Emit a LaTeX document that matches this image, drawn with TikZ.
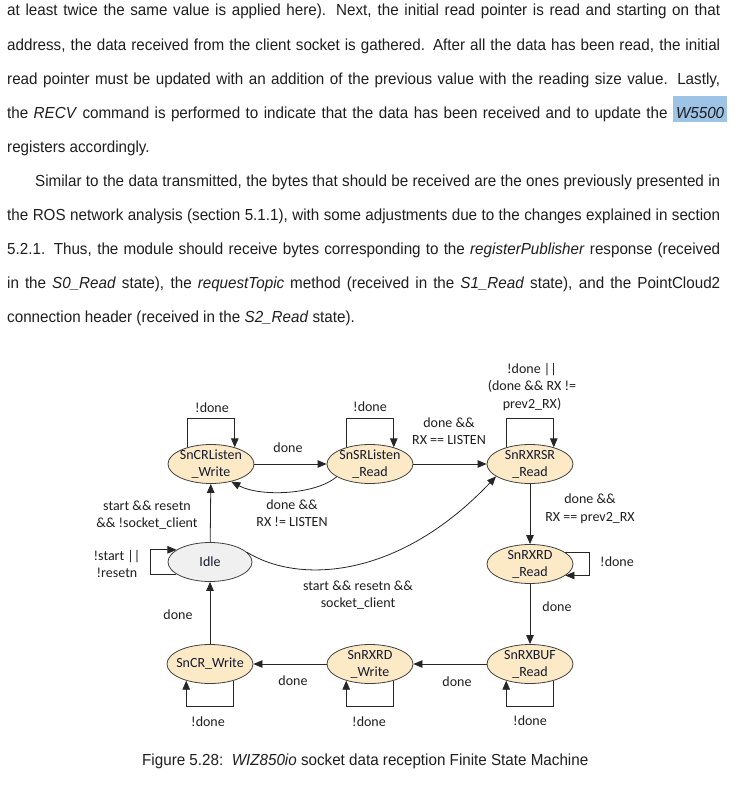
\documentclass[tikz,border=0pt]{standalone}
\usepackage{fontspec}
\setmainfont[FakeStretch=0.95]{Liberation Sans}
\newfontfamily\diag{Carlito}
\usetikzlibrary{arrows.meta,shapes.geometric}
\definecolor{peach}{RGB}{252,234,198}
\definecolor{idlegray}{RGB}{240,240,240}
\definecolor{hlblue}{RGB}{157,195,230}
\definecolor{txt}{RGB}{30,30,30}
\definecolor{ntxt}{RGB}{22,26,48}
\begin{document}
\begin{tikzpicture}[x=1pt,y=-1pt,
  line/.style={anchor=base west, inner sep=0pt, font=\fontsize{16}{19}\selectfont, text=txt},
  state/.style={ellipse, draw=black!75, line width=0.8pt, fill=peach, minimum width=86pt, minimum height=39pt, inner sep=0pt},
  st/.style={font=\diag\fontsize{14}{17}\selectfont, align=center, inner sep=0pt, text=ntxt},
  lab/.style={font=\diag\fontsize{14}{17.5}\selectfont, align=center, inner sep=0pt, text=txt},
  arr/.style={draw=black!85, line width=0.8pt, -{Triangle[length=9pt,width=7.5pt]}},
]
\useasboundingbox (0,0) rectangle (754,787);

% ---------- body text ----------
\node[line] (t1) at (7,16) {\makebox[713pt][s]{at least twice the same value is applied here).  Next, the initial read pointer is read and starting on that}};
\node[line] (t2) at (7,50) {\makebox[713pt][s]{address, the data received from the client socket is gathered. After all the data has been read, the initial}};
\node[line] (t3) at (7,84) {\makebox[713pt][s]{read pointer must be updated with an addition of the previous value with the reading size value.  Lastly,}};
\node[line] (t4) at (7,118) {\makebox[720pt][s]{the \textit{RECV} command is performed to indicate that the data has been received and to update the {\setlength{\fboxsep}{3pt}\colorbox{hlblue}{\rule[-1pt]{0pt}{20pt}\textit{W5500}}}}};
\node[line] (t5) at (7,152) {registers accordingly.};
\node[line] (t6) at (35,186) {\makebox[685pt][s]{Similar to the data transmitted, the bytes that should be received are the ones previously presented in}};
\node[line] (t7) at (7,220) {\makebox[713pt][s]{the ROS network analysis (section 5.1.1), with some adjustments due to the changes explained in section}};
\node[line] (t8) at (7,254) {\makebox[713pt][s]{5.2.1. Thus, the module should receive bytes corresponding to the \textit{registerPublisher} response (received}};
\node[line] (t9) at (7,288) {\makebox[713pt][s]{in the \textit{S0\_Read} state), the \textit{requestTopic} method (received in the \textit{S1\_Read} state), and the PointCloud2}};
\node[line] (t10) at (7,322) {connection header (received in the \textit{S2\_Read} state).};

% ---------- states ----------
\node[state, label={[st]center:{SnCRListen\\\_Write}}] (A) at (211,464) {};
\node[state, label={[st]center:{SnSRListen\\\_Read}}] (B) at (370,464) {};
\node[state, label={[st]center:{SnRXRSR\\\_Read}}] (C) at (530,464) {};
\node[state, fill=idlegray, minimum width=84pt, label={[st]center:Idle}] (I) at (210,562) {};
\node[state, label={[st]center:{SnRXRD\\\_Read}}] (D) at (530,564) {};
\node[state, label={[st]center:{SnRXBUF\\\_Read}}] (E) at (530,664) {};
\node[state, label={[st]center:{SnRXRD\\\_Write}}] (F) at (370,664) {};
\node[state, label={[st]center:SnCR\_Write}] (G) at (210,664) {};

% ---------- transitions ----------
\draw[arr] (A) -- (B);
\draw[arr] (B) -- (C);
\draw[arr] (I) -- (A);
\draw[arr] (C) -- (D);
\draw[arr] (D) -- (E);
\draw[arr] (E) -- (F);
\draw[arr] (F) -- (G);
\draw[arr] (G) -- (I);
\draw[arr] (B.201) .. controls (315,495) and (260,497) .. (A.319);
\draw[arr] (I.15) .. controls (300,585) and (400,578) .. (C.200);

% self loops
\draw[arr] (A.145) -- ++(0,-29) -| (A.35);
\draw[arr] (B.145) -- ++(0,-29) -| (B.35);
\draw[arr] (C.145) -- ++(0,-29) -| (C.35);
\draw[arr] (D.18) -- ++(24,0) |- (D.342);
\draw[arr] (E.325) -- ++(0,26) -| (E.215);
\draw[arr] (F.325) -- ++(0,26) -| (F.215);
\draw[arr] (G.325) -- ++(0,26) -| (G.215);
\draw[arr] (I.200) -- ++(-26,0) |- (I.160);

% ---------- labels ----------
\node[lab] (lA) at (212,408) {!done};
\node[lab] (lB) at (370,407) {!done};
\node[lab] (lC) at (532,387) {!done ||\\(done \&\& RX !=\\prev2\_RX)};
\node[lab] (lAB) at (288,448) {done};
\node[lab] (lBA) at (292,513) {done \&\&\\RX != LISTEN};
\node[lab] (lBC) at (449,431) {done \&\&\\RX == LISTEN};
\node[lab] (lCD) at (590,509) {done \&\&\\RX == prev2\_RX};
\node[lab] (lIA) at (147,515) {start \&\& resetn\\\&\& !socket\_client};
\node[lab] (lI) at (117,564) {!start ||\\!resetn};
\node[lab] (lD) at (617,562) {!done};
\node[lab] (lIC) at (358,595) {start \&\& resetn \&\&\\socket\_client};
\node[lab] (lGI) at (178,615) {done};
\node[lab] (lDE) at (557,607) {done};
\node[lab] (lFG) at (293,681) {done};
\node[lab] (lEF) at (457,682) {done};
\node[lab] (lG) at (208,722) {!done};
\node[lab] (lF) at (369,722) {!done};
\node[lab] (lE) at (530,721) {!done};

% ---------- caption ----------
\node[line] (cap) at (142,765) {Figure 5.28:\ \ \textit{WIZ850io} socket data reception Finite State Machine};
\end{tikzpicture}
\end{document}
